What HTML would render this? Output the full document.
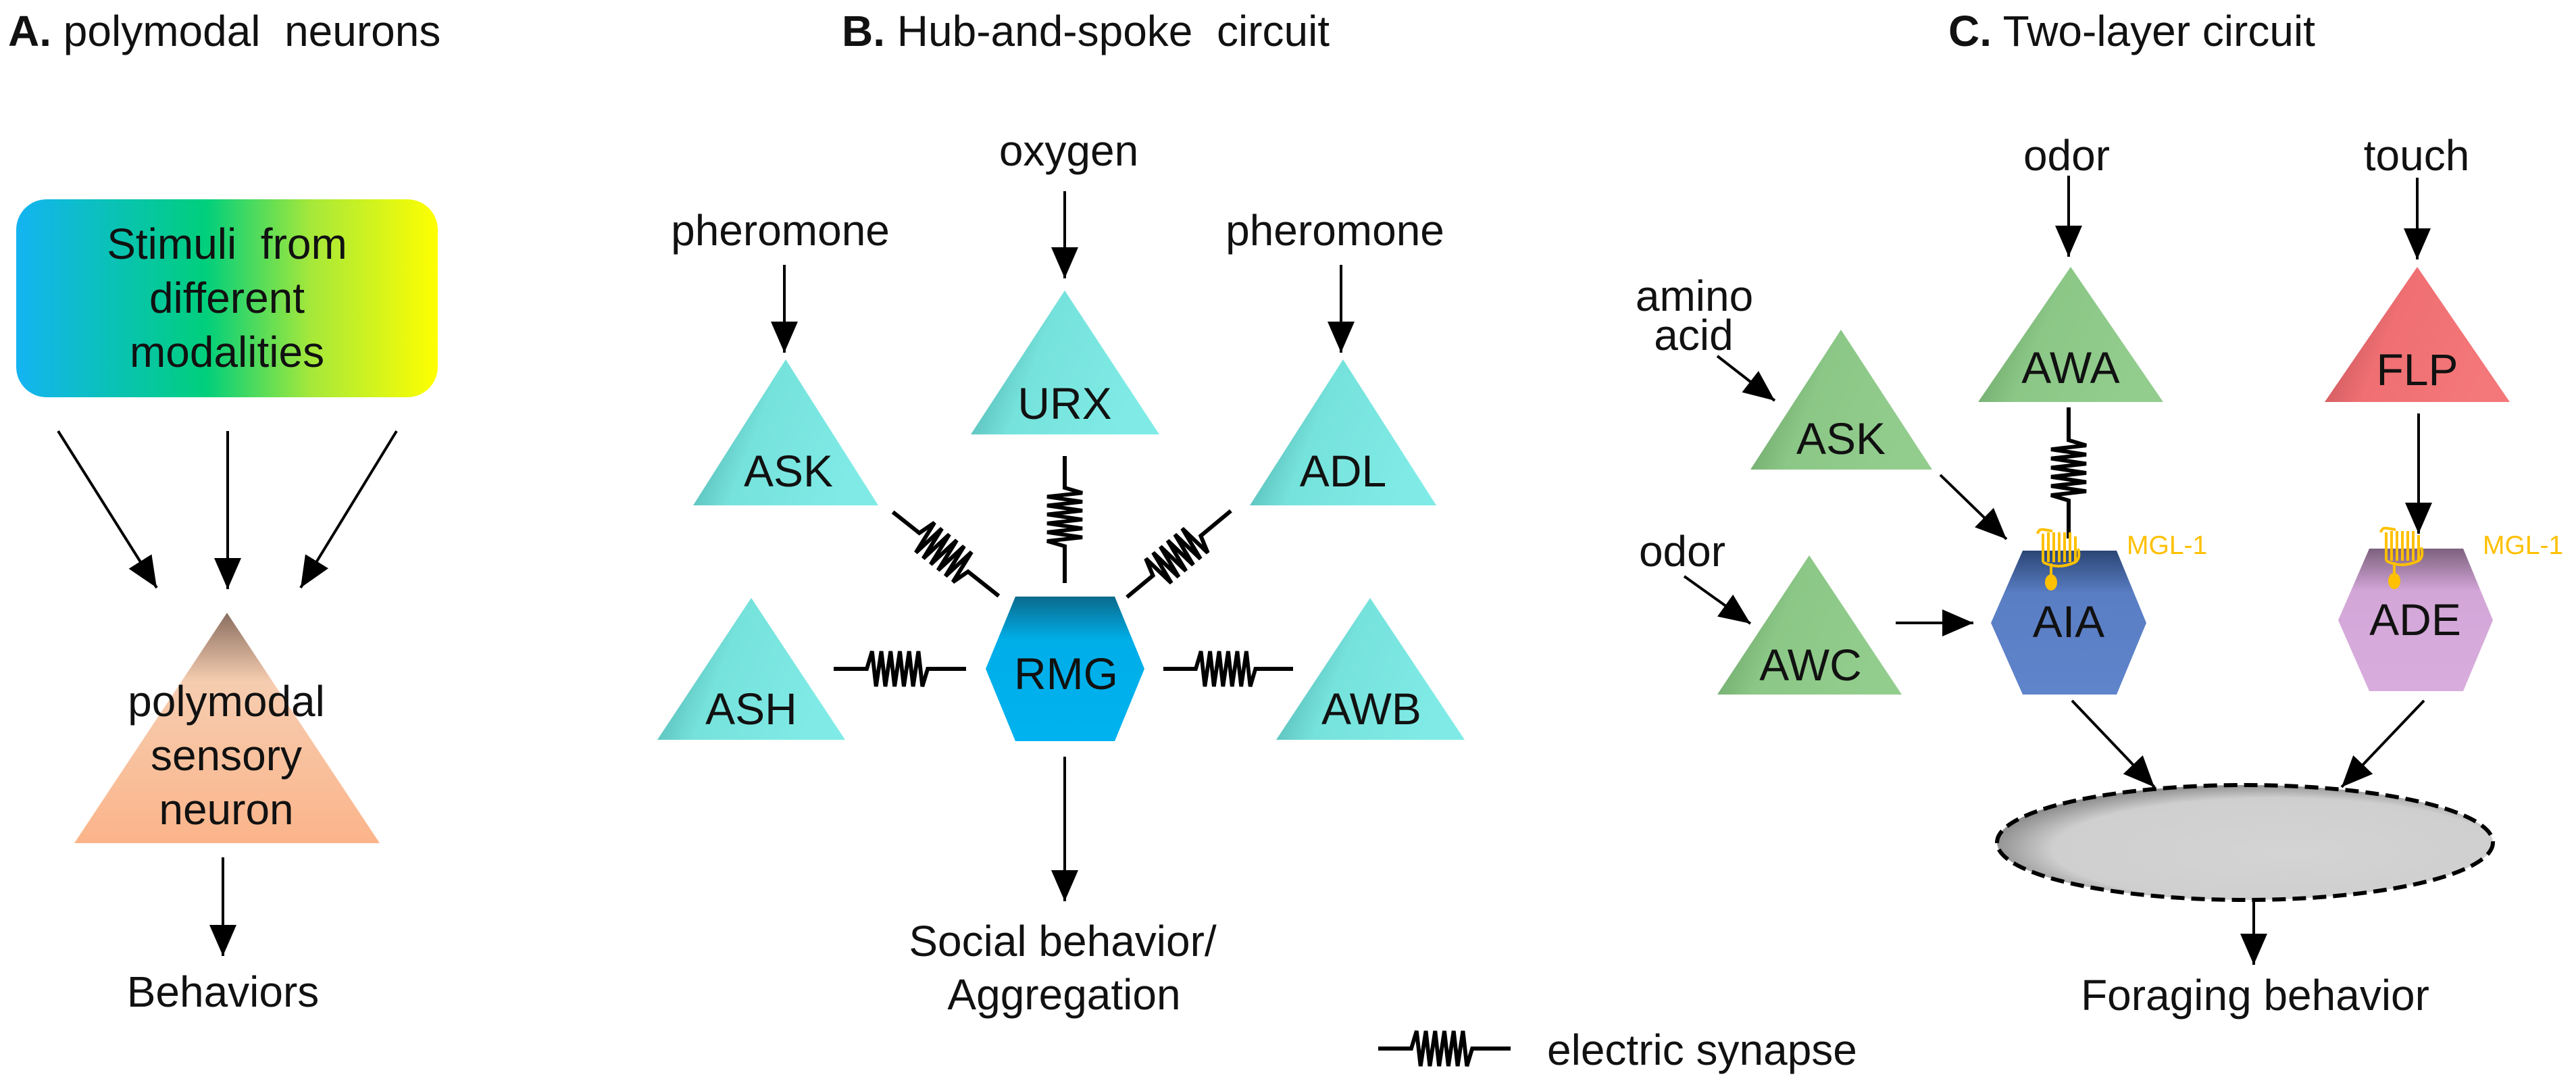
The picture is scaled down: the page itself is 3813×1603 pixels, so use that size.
<!DOCTYPE html>
<html><head><meta charset="utf-8"><style>
html,body{margin:0;padding:0;background:#fff;}
svg{display:block;}
text{font-family:"Liberation Sans",Arial,sans-serif;fill:#111;}
</style></head><body>
<svg width="3813" height="1603" viewBox="0 0 3813 1603" xmlns="http://www.w3.org/2000/svg">
<defs>
<marker id="ah" markerWidth="46" markerHeight="40" refX="46" refY="20" orient="auto" markerUnits="userSpaceOnUse"><path d="M0,0 L46,20 L0,40z" fill="#000"/></marker>
<linearGradient id="box" x1="0" y1="0" x2="1" y2="0">
<stop offset="0" stop-color="#14b4f2"/><stop offset="0.45" stop-color="#00cf7c"/><stop offset="0.7" stop-color="#a6e83a"/><stop offset="1" stop-color="#ffff00"/></linearGradient>
<linearGradient id="cyan" x1="0" y1="0" x2="1" y2="0.3">
<stop offset="0" stop-color="#3f9d99"/><stop offset="0.45" stop-color="#76e2dc"/><stop offset="1" stop-color="#80ebe6"/></linearGradient>
<linearGradient id="green" x1="0" y1="0" x2="1" y2="0.3">
<stop offset="0" stop-color="#5d935a"/><stop offset="0.45" stop-color="#8bc786"/><stop offset="1" stop-color="#93cd8e"/></linearGradient>
<linearGradient id="red" x1="0" y1="0" x2="1" y2="0.3">
<stop offset="0" stop-color="#b04a50"/><stop offset="0.45" stop-color="#ef6f72"/><stop offset="1" stop-color="#f47779"/></linearGradient>
<linearGradient id="peach" x1="0" y1="0" x2="0" y2="1">
<stop offset="0" stop-color="#8a6e60"/><stop offset="0.3" stop-color="#f6cdb0"/><stop offset="1" stop-color="#fbb48a"/></linearGradient>
<linearGradient id="rmg" x1="0" y1="0" x2="0" y2="1">
<stop offset="0" stop-color="#0a6a8c"/><stop offset="0.3" stop-color="#00aee8"/><stop offset="1" stop-color="#00b2ef"/></linearGradient>
<linearGradient id="aia" x1="0" y1="0" x2="0" y2="1">
<stop offset="0" stop-color="#2b4675"/><stop offset="0.3" stop-color="#5a7ec4"/><stop offset="1" stop-color="#5f84cb"/></linearGradient>
<linearGradient id="ade" x1="0" y1="0" x2="0" y2="1">
<stop offset="0" stop-color="#7d617f"/><stop offset="0.3" stop-color="#d3a6d8"/><stop offset="1" stop-color="#d8addd"/></linearGradient>
<radialGradient id="ell" cx="0.55" cy="0.55" r="0.6" fx="0.6" fy="0.6">
<stop offset="0" stop-color="#d4d4d4"/><stop offset="0.75" stop-color="#cfcfcf"/><stop offset="1" stop-color="#7a7a7a"/></radialGradient>
<g id="syn"><path d="M-100,0 H-50 L-42,-26 L-36,26 L-28,-26 L-22,26 L-14,-26 L-8,26 L0,-26 L6,26 L14,-26 L20,26 L28,-26 L34,26 L42,0 H100" fill="none" stroke="#000" stroke-width="6" stroke-linejoin="miter"/></g>
<g id="rec" fill="none" stroke="#ffc000" stroke-width="4">
<path d="M0,8 Q2,0 10,2 L22,4"/><path d="M8,8 V50 M16,6 V50 M24,6 V50 M32,6 V50 M40,6 V50 M48,6 V50 M56,12 V50"/><path d="M8,50 Q30,62 56,50 Q64,44 60,30"/><path d="M20,52 V72"/><ellipse cx="20" cy="80" rx="9" ry="12" fill="#ffc000" stroke="none"/>
</g>
</defs>

<text x="12" y="68" font-size="64"><tspan font-weight="bold">A.</tspan> polymodal&#160; neurons</text>
<text x="1246" y="68" font-size="64"><tspan font-weight="bold">B.</tspan> Hub-and-spoke&#160; circuit</text>
<text x="2884" y="68" font-size="64"><tspan font-weight="bold">C.</tspan> Two-layer circuit</text>

<rect x="24" y="295" width="624" height="293" rx="45" fill="url(#box)"/>
<g font-size="64" text-anchor="middle">
<text x="336" y="383">Stimuli&#160; from</text>
<text x="336" y="463">different</text>
<text x="336" y="543">modalities</text>
</g>
<g stroke="#000" stroke-width="4" marker-end="url(#ah)">
<line x1="86" y1="638" x2="232" y2="870"/>
<line x1="337" y1="638" x2="337" y2="872"/>
<line x1="587" y1="638" x2="445" y2="870"/>
<line x1="330" y1="1269" x2="330" y2="1415"/>
</g>
<polygon points="336,907 562,1248 110,1248" fill="url(#peach)"/>
<g font-size="64" text-anchor="middle">
<text x="335" y="1060">polymodal</text>
<text x="335" y="1140">sensory</text>
<text x="335" y="1220">neuron</text>
<text x="330" y="1490">Behaviors</text>
</g>

<g font-size="64" text-anchor="middle">
<text x="1582" y="245">oxygen</text>
<text x="1155" y="363">pheromone</text>
<text x="1976" y="363">pheromone</text>
</g>
<g stroke="#000" stroke-width="4" marker-end="url(#ah)">
<line x1="1161" y1="392" x2="1161" y2="522"/>
<line x1="1576" y1="283" x2="1576" y2="412"/>
<line x1="1985" y1="392" x2="1985" y2="522"/>
<line x1="1576" y1="1120" x2="1576" y2="1334"/>
</g>
<polygon points="1163,532 1300,748 1026,748" fill="url(#cyan)"/>
<polygon points="1576,430 1716,643 1437,643" fill="url(#cyan)"/>
<polygon points="1988,532 2126,748 1850,748" fill="url(#cyan)"/>
<polygon points="1112,885 1251,1095 973,1095" fill="url(#cyan)"/>
<polygon points="2028,885 2168,1095 1889,1095" fill="url(#cyan)"/>
<polygon points="1503,883 1650,883 1694,990 1650,1097 1503,1097 1459,990" fill="url(#rmg)"/>
<g font-size="66" text-anchor="middle">
<text x="1167" y="720">ASK</text>
<text x="1576" y="620">URX</text>
<text x="1988" y="720">ADL</text>
<text x="1112" y="1072">ASH</text>
<text x="2030" y="1072">AWB</text>
<text x="1578" y="1020">RMG</text>
</g>
<use href="#syn" transform="translate(1332,990) scale(0.98,1)"/>
<use href="#syn" transform="translate(1818,990) scale(0.96,1)"/>
<use href="#syn" transform="translate(1400,820) rotate(38.4) scale(1.0,1)"/>
<use href="#syn" transform="translate(1576,769) rotate(90) scale(0.94,1)"/>
<use href="#syn" transform="translate(1745,820) rotate(-39.7) scale(1.0,1)"/>
<g font-size="64" text-anchor="middle">
<text x="1573" y="1415">Social behavior/</text>
<text x="1575" y="1494">Aggregation</text>
</g>

<use href="#syn" transform="translate(2138,1552) scale(0.98,1)"/>
<text x="2290" y="1576" font-size="64">electric synapse</text>

<g font-size="64" text-anchor="middle">
<text x="3059" y="252">odor</text>
<text x="3577" y="252">touch</text>
<text x="2508" y="460">amino</text>
<text x="2507" y="518">acid</text>
<text x="2490" y="838">odor</text>
</g>
<g stroke="#000" stroke-width="4" marker-end="url(#ah)">
<line x1="3062" y1="260" x2="3062" y2="380"/>
<line x1="3578" y1="263" x2="3578" y2="384"/>
<line x1="2542" y1="527" x2="2627" y2="593"/>
<line x1="2872" y1="703" x2="2970" y2="798"/>
<line x1="2493" y1="853" x2="2591" y2="923"/>
<line x1="2806" y1="922" x2="2921" y2="922"/>
<line x1="3580" y1="612" x2="3580" y2="790"/>
<line x1="3067" y1="1037" x2="3189" y2="1165"/>
<line x1="3588" y1="1037" x2="3466" y2="1165"/>
<line x1="3336" y1="1333" x2="3336" y2="1428"/>
</g>
<polygon points="2725,488 2860,695 2591,695" fill="url(#green)"/>
<polygon points="3065,395 3202,595 2928,595" fill="url(#green)"/>
<polygon points="3578,395 3715,595 3441,595" fill="url(#red)"/>
<polygon points="2678,822 2815,1028 2542,1028" fill="url(#green)"/>
<polygon points="2994,815 3133,815 3177,922 3133,1028 2994,1028 2947,922" fill="url(#aia)"/>
<polygon points="3507,812 3646,812 3690,918 3646,1023 3507,1023 3461,918" fill="url(#ade)"/>
<use href="#syn" transform="translate(3062,700) rotate(90) scale(0.97,1)"/>
<use href="#rec" transform="translate(3016,782)"/>
<use href="#rec" transform="translate(3524,780)"/>
<g font-size="39">
<text x="3148" y="820" style="fill:#ffc000">MGL-1</text>
<text x="3675" y="820" style="fill:#ffc000">MGL-1</text>
</g>
<g font-size="66" text-anchor="middle">
<text x="2725" y="672">ASK</text>
<text x="3065" y="567">AWA</text>
<text x="3578" y="570">FLP</text>
<text x="2680" y="1007">AWC</text>
<text x="3062" y="943">AIA</text>
<text x="3575" y="940">ADE</text>
</g>
<ellipse cx="3323" cy="1247" rx="367" ry="85" fill="url(#ell)" stroke="#000" stroke-width="6" stroke-dasharray="20 10"/>
<text x="3338" y="1495" font-size="64" text-anchor="middle">Foraging behavior</text>
</svg>
</body></html>
